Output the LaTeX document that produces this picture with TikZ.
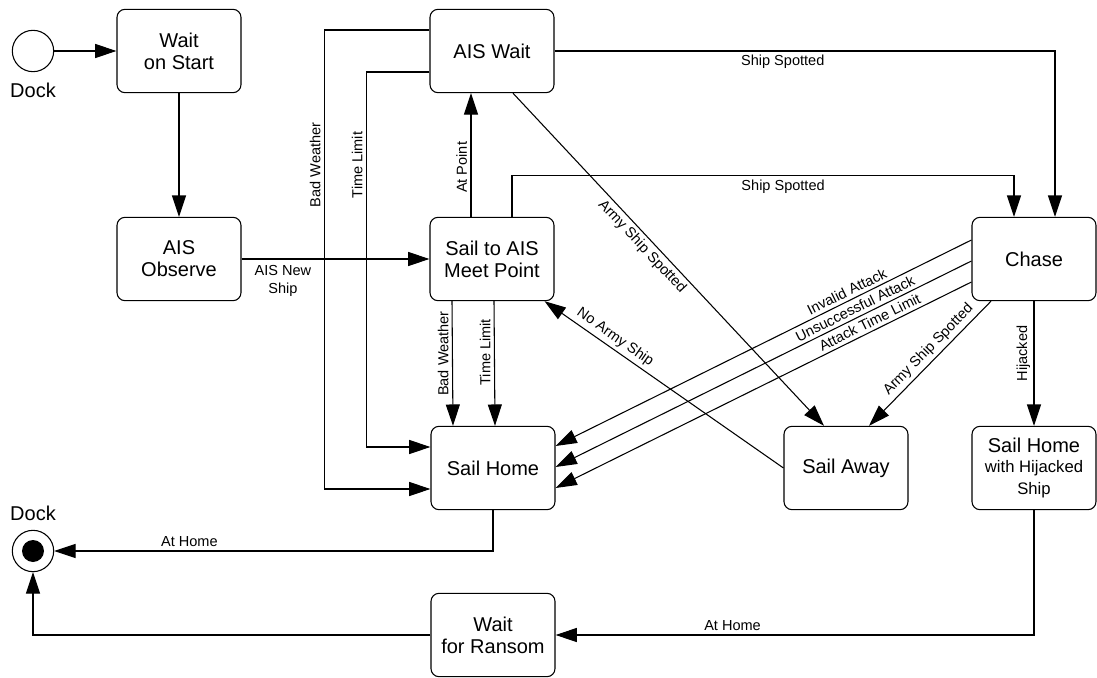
\documentclass[tikz,border=0pt]{standalone}
\usepackage{fontspec}
\setmainfont{Liberation Sans}
\usetikzlibrary{arrows.meta,calc}

\newcommand\boxfnt{\fontsize{15}{16.5}\selectfont}
\newcommand\lblfnt{\fontsize{10.9}{13}\selectfont}
\newcommand\smlfnt{\fontsize{12.5}{15}\selectfont}

\begin{document}
\begin{tikzpicture}[x=0.75pt,y=-0.75pt,line width=0.8pt,
  >={Triangle[length=16pt,width=10.5pt]},
  state/.style={draw,rounded corners=6pt,minimum width=93pt,minimum height=62.5pt,align=center,font=\boxfnt,inner sep=1pt},
  lbl/.style={font=\lblfnt,inner sep=2.5pt}]
  \useasboundingbox (0,0) rectangle (1097,678);
  % start and end
  \node[draw,circle,minimum size=31pt,inner sep=0pt] (start) at (33,51) {};
  \node[font=\boxfnt] (startlbl) at (33,90) {Dock};
  \node[draw,circle,minimum size=31pt,inner sep=0pt] (dock) at (33,551) {};
  \node[circle,fill,minimum size=16.5pt,inner sep=0pt] (dockdot) at (dock) {};
  \node[font=\boxfnt] (docklbl) at (33,513) {Dock};
  % states
  \node[state] (waitstart) at (179,51) {Wait\\on Start};
  \node[state] (aisobs) at (179,259) {AIS\\Observe};
  \node[state] (aiswait) at (492,51) {AIS Wait};
  \node[state] (sailais) at (492,259) {Sail to AIS\\Meet Point};
  \node[state] (chase) at (1034,259) {Chase};
  \node[state] (sailhome) at (493,468) {Sail Home};
  \node[state] (sailaway) at (846,468) {Sail Away};
  \node[state] (sailhj) at (1034,468) {Sail Home\\[-1pt]\smlfnt with Hijacked\\\smlfnt Ship};
  \node[state] (ransom) at (493,635) {Wait\\for Ransom};
  % transitions
  \draw[->] (start) -- (waitstart);
  \draw[->] (waitstart) -- (aisobs);
  \draw[->] (aisobs) -- node[lbl,below,pos=0.22,align=center,yshift=-2pt] {AIS New\\Ship} (sailais);
  \draw[->] ($(sailais.north)+(-21,0)$) -- node[lbl,rotate=90,above,pos=0.4] {At Point} ($(aiswait.south)+(-21,0)$);
  \draw[->] (aiswait.east) -| node[lbl,below,pos=0.228] {Ship Spotted} ($(chase.north)+(21,0)$);
  \draw[->] ($(sailais.north)+(20,0)$) -- ++(0,-41) -| node[lbl,below,pos=0.27] {Ship Spotted} ($(chase.north)+(-20,0)$);
  \draw[->] ($(aiswait.south)+(21,0)$) -- node[lbl,below,sloped,pos=0.44] {Army Ship Spotted} ($(sailaway.north)+(-22,0)$);
  \draw[->] ($(chase.south)+(-43,0)$) -- node[lbl,above,sloped,pos=0.45] {Army Ship Spotted} ($(sailaway.north)+(23,0)$);
  \draw[->] (sailaway.west) -- node[lbl,above,sloped,pos=0.73] {No Army Ship} ($(sailais.south east)+(-10,0)$);
  \foreach \a/\b/\txt/\p in {-19/-22/Invalid Attack/0.29, 2/-1/Unsuccessful Attack/0.27, 23/20/Attack Time Limit/0.235}
    \draw[->] ($(chase.west)+(0,\a)$) -- node[lbl,above,sloped,pos=\p] {\txt} ($(sailhome.east)+(0,\b)$);
  \draw[->] ($(sailais.south)+(-40,0)$) -- node[lbl,rotate=90,above,pos=0.42] {Bad Weather} ($(sailhome.north)+(-40,0)$);
  \draw[->] ($(sailais.south)+(2,0)$) -- node[lbl,rotate=90,above,pos=0.41] {Time Limit} ($(sailhome.north)+(2,0)$);
  \draw[->] ($(aiswait.west)+(0,-21)$) -- ++(-105,0) |- node[lbl,rotate=90,above,pos=0.147] {Bad Weather} ($(sailhome.west)+(0,21)$);
  \draw[->] ($(aiswait.west)+(0,21)$) -- ++(-63,0) |- node[lbl,rotate=90,above,pos=0.124] {Time Limit} ($(sailhome.west)+(0,-21)$);
  \draw[->] (chase) -- node[lbl,rotate=90,above,pos=0.42] {Hijacked} (sailhj);
  \draw[->] (sailhome.south) |- node[lbl,above,pos=0.846] {At Home} (dock.east);
  \draw[->] (sailhj.south) |- node[lbl,above,pos=0.815] {At Home} (ransom.east);
  \draw[->] (ransom.west) -| (dock.south);
\end{tikzpicture}
\end{document}
